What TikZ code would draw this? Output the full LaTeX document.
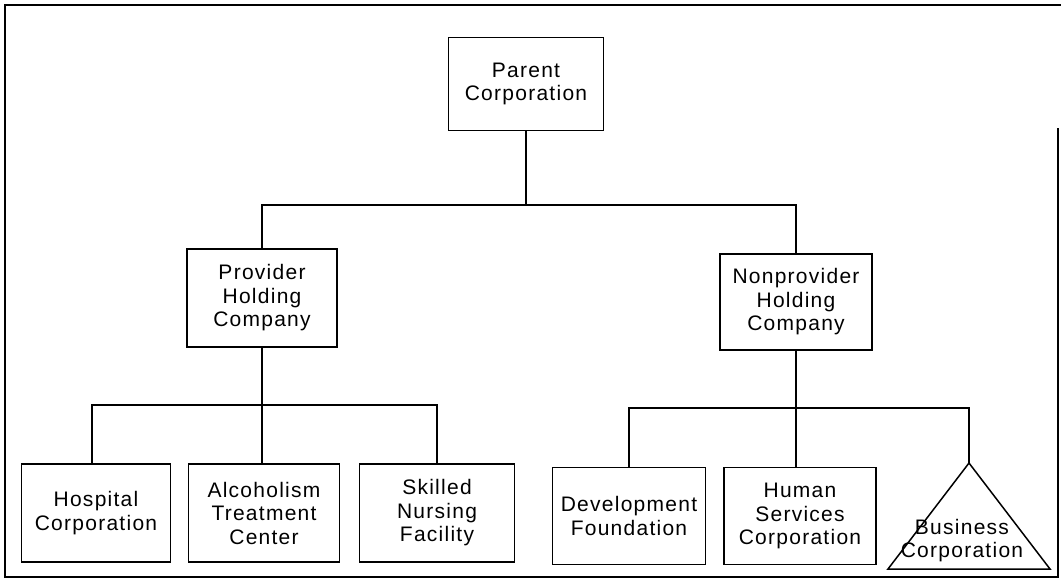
\documentclass[tikz,border=0pt]{standalone}
\usepackage{fontspec}
\setmainfont{Liberation Sans}[LetterSpace=6]
\begin{document}
\begin{tikzpicture}[x=1pt,y=-1pt,
  line width=1.5pt,
  orgbox/.style={draw, rectangle, align=center, inner sep=0pt,
    font=\fontsize{21}{23.5}\selectfont},
  label/.style={align=center, inner sep=0pt,
    font=\fontsize{21}{23}\selectfont}]
\useasboundingbox (0,0) rectangle (1061,582);

% outer frame (right side open at the top)
\draw (1061,5) -- (5,5) -- (5,577) -- (1058,577) -- (1058,128);

% boxes
\node[orgbox, minimum width=155pt, minimum height=93pt] (parent) at (526,84) {Parent\\Corporation};
\node[orgbox, minimum width=150pt, minimum height=98pt] (prov) at (262,298) {Provider\\Holding\\Company};
\node[orgbox, minimum width=152pt, minimum height=96pt] (nonprov) at (796,302) {Nonprovider\\Holding\\Company};

\node[orgbox, minimum width=149pt, minimum height=98pt] (hosp) at (96,513) {Hospital\\Corporation};
\node[orgbox, minimum width=151pt, minimum height=98pt] (alc) at (264,513) {Alcoholism\\Treatment\\Center};
\node[orgbox, minimum width=155pt, minimum height=98pt] (snf) at (437,513) {Skilled\\Nursing\\Facility};

\node[orgbox, minimum width=153pt, minimum height=97pt] (dev) at (629,516) {Development\\Foundation};
\node[orgbox, minimum width=152pt, minimum height=97pt] (hum) at (800,516) {Human\\Services\\Corporation};

% triangle for the business corporation
\coordinate (bizTop) at (969,463);
\coordinate (bizL) at (888,569);
\coordinate (bizR) at (1050,569);
\draw[line join=miter] (bizTop) -- (bizL) -- (bizR) -- cycle;
\node[label] (biz) at (962,541) {Business\\Corporation};

% connector buses
\coordinate (busTop) at (0,205);
\coordinate (busL) at (0,405);
\coordinate (busR) at (0,408);

\draw (parent.south) -- (parent.south |- busTop);
\draw (prov.north) -- (prov.north |- busTop) -- (nonprov.north |- busTop) -- (nonprov.north);

\coordinate (hospTop) at (92,405);
\coordinate (snfTop) at (437,405);
\draw (prov.south) -- (prov.south |- busL);
\draw (hospTop |- hosp.north) -- (hospTop) -- (snfTop) -- (snfTop |- snf.north);
\draw (prov.south |- busL) -- (prov.south |- alc.north);

\coordinate (devTop) at (629,408);
\coordinate (humTop) at (796,408);
\draw (nonprov.south) -- (nonprov.south |- busR);
\draw (devTop |- dev.north) -- (devTop) -- (bizTop |- busR) -- (bizTop);
\draw (humTop) -- (humTop |- hum.north);
\end{tikzpicture}
\end{document}
